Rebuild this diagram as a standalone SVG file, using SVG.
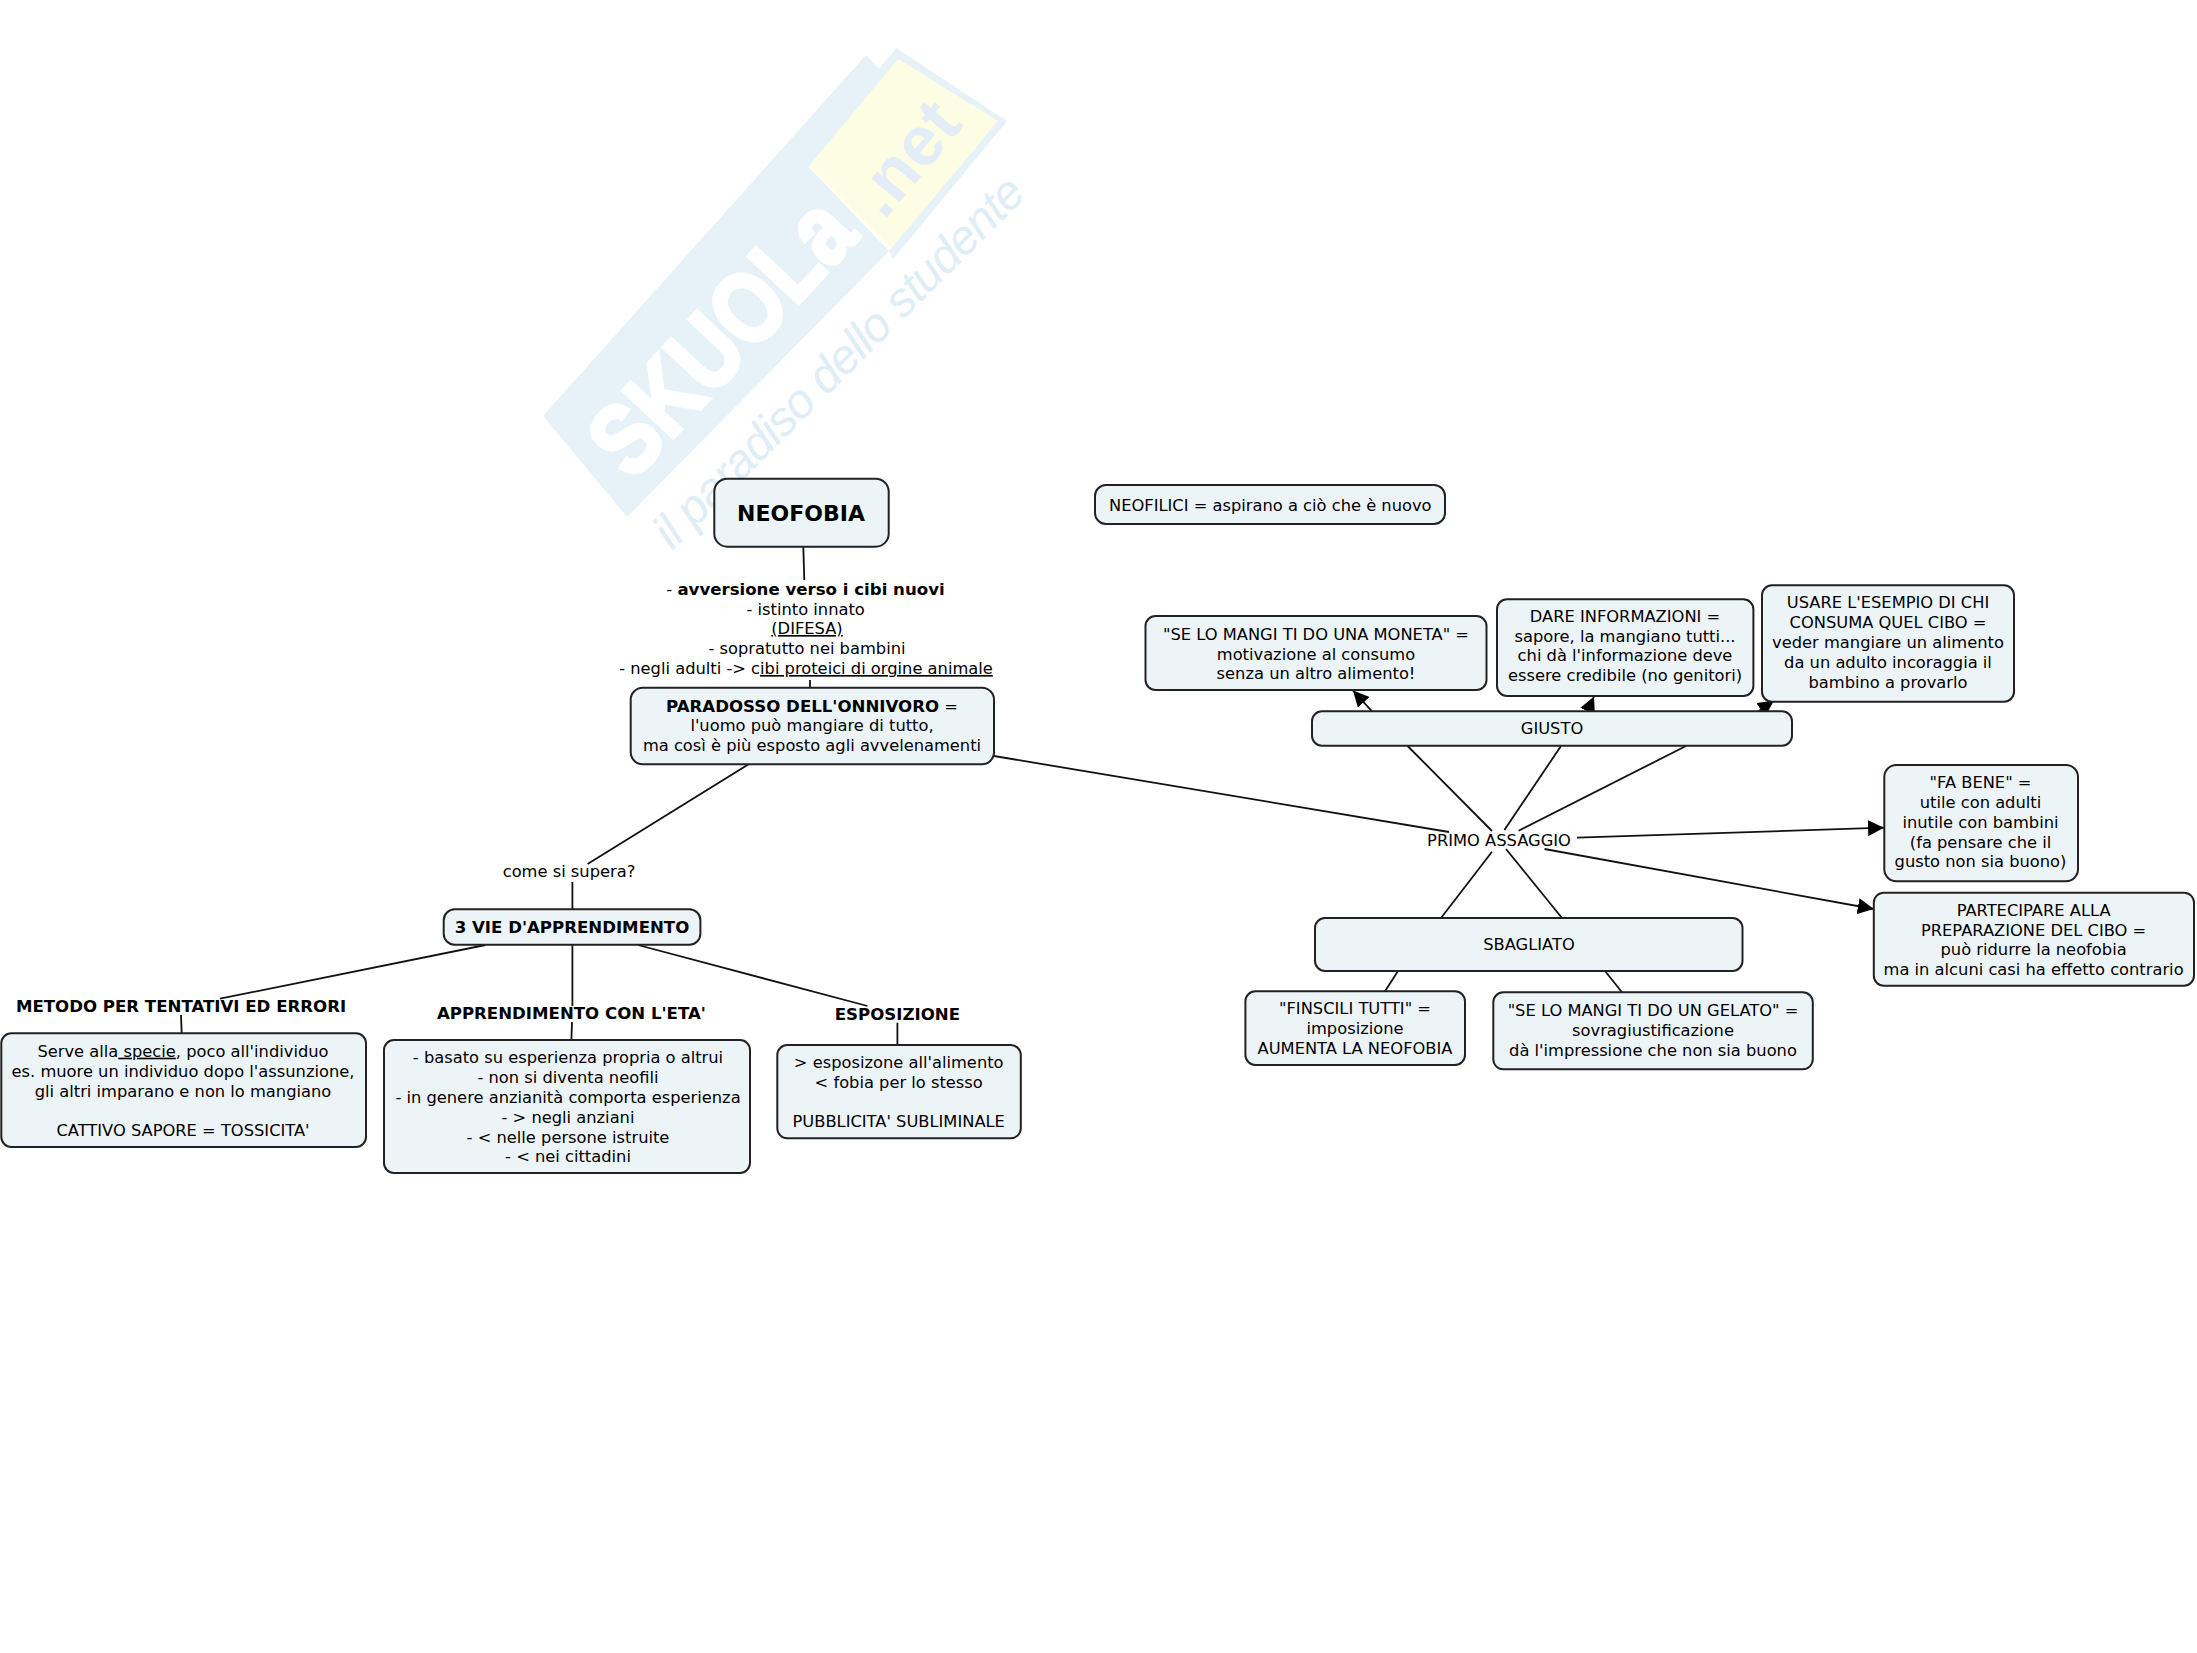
<svg xmlns="http://www.w3.org/2000/svg" width="2197" height="1653" viewBox="0 0 2197 1653">
<defs>
<marker id="arrow" markerUnits="userSpaceOnUse" markerWidth="18" markerHeight="16" refX="16" refY="8" orient="auto"><path d="M0 0L16 8L0 16Z" fill="#000"/></marker>
</defs>
<style>
.box{fill:#edf4f8;stroke:#222;stroke-width:2}
.t{font-family:"DejaVu Sans",Verdana,sans-serif;font-size:16.3px;fill:#000;text-anchor:middle}
.b{font-weight:bold;font-size:16.6px}
.u{text-decoration:underline}
.c{fill:none;stroke:#111;stroke-width:1.8}
.a{marker-end:url(#arrow)}
.wm{font-family:"Liberation Sans",Arial,sans-serif}
</style>
<rect width="2197" height="1653" fill="#fff"/>
<g id="watermark">
<polygon points="543,416 866,55 879,69 808,166 889,251 627,517" fill="#e6f2f8"/>
<polygon points="898,59 998,121 891,248 809,166" fill="#fdfde3"/>
<path d="M896 48L1007 121L893 259L889 251L998 121L898 59L809 166L804 163Z" fill="#e6f2f8"/>
<text class="wm" transform="translate(632 482) rotate(-47)" font-size="100" font-weight="bold" fill="#fff" stroke="#fff" stroke-width="4" textLength="335" lengthAdjust="spacingAndGlyphs">SKUOLa</text>
<text class="wm" transform="translate(884 221) rotate(-50)" font-size="70" font-weight="bold" fill="#e2edf7" textLength="125" lengthAdjust="spacingAndGlyphs">.net</text>
<text class="wm" transform="translate(672 551) rotate(-45)" font-size="48" font-style="italic" fill="#dfeef6" textLength="503" lengthAdjust="spacing">il paradiso dello studente</text>
</g>
<g id="connectors">
<path class="c" d="M803.3 546.7L804.3 580"/>
<path class="c" d="M810 680L810 687.7"/>
<path class="c" d="M994 756L1449 832"/>
<path class="c" d="M749 764L587.6 864"/>
<path class="c" d="M572.4 882V909.3"/>
<path class="c" d="M485.5 945L220 998.7"/>
<path class="c" d="M572.4 945V1006"/>
<path class="c" d="M572 1022L571.4 1040"/>
<path class="c" d="M638 945L867.5 1006"/>
<path class="c" d="M181 1015L181.7 1033.3"/>
<path class="c" d="M897.4 1022.7V1045"/>
<path class="c" d="M1407.6 746L1492 831"/>
<path class="c" d="M1561 746L1504.4 830"/>
<path class="c" d="M1686 746L1518.6 830.7"/>
<path class="c" d="M1492 851.7L1441 918"/>
<path class="c" d="M1506 849L1562 918"/>
<path class="c" d="M1398 971L1385 991.3"/>
<path class="c" d="M1605 971L1622 992.3"/>
<path class="c a" d="M1577 837.7L1884 827.7"/>
<path class="c a" d="M1544.5 849L1873.8 909"/>
<path class="c a" d="M1372 711.3L1353 690.5"/>
<path class="c a" d="M1587.5 711.3L1594 696.5"/>
<path class="c a" d="M1756 713L1774 700.5"/>
</g>
<g id="neofobia"><rect class="box" x="714.3" y="478.7" width="174.4" height="68" rx="13"/><text class="t b" x="801" y="521" style="font-size:22px">NEOFOBIA</text></g>
<g id="definizione"><text class="t"><tspan x="805.5" y="595">- <tspan class="b">avversione verso i cibi nuovi</tspan></tspan><tspan x="805.7" y="614.6">- istinto innato</tspan><tspan class="u" x="807" y="634">(DIFESA)</tspan><tspan x="807" y="654">- sopratutto nei bambini</tspan><tspan x="806" y="674">- negli adulti -&gt; c<tspan class="u">ibi proteici di orgine animale</tspan></tspan></text></g>
<g id="paradosso"><rect class="box" x="630.7" y="687.7" width="363.3" height="76.6" rx="12"/><text class="t"><tspan x="812" y="711.7"><tspan class="b">PARADOSSO DELL'ONNIVORO</tspan> =</tspan><tspan x="812" y="731">l'uomo può mangiare di tutto,</tspan><tspan x="812" y="751">ma così è più esposto agli avvelenamenti</tspan></text></g>
<g id="neofilici"><rect class="box" x="1095" y="485" width="350" height="39" rx="11"/><text class="t" x="1270.3" y="510.5">NEOFILICI = aspirano a ciò che è nuovo</text></g>
<g id="moneta"><rect class="box" x="1145.5" y="616" width="341" height="74" rx="10"/><text class="t"><tspan x="1316" y="639.5">"SE LO MANGI TI DO UNA MONETA" =</tspan><tspan x="1316" y="659.5">motivazione al consumo</tspan><tspan x="1316" y="679">senza un altro alimento!</tspan></text></g>
<g id="informazioni"><rect class="box" x="1497" y="599.3" width="256.4" height="96.7" rx="10"/><text class="t"><tspan x="1625" y="621.7">DARE INFORMAZIONI =</tspan><tspan x="1625" y="641.7">sapore, la mangiano tutti...</tspan><tspan x="1625" y="661">chi dà l'informazione deve</tspan><tspan x="1625" y="681">essere credibile (no genitori)</tspan></text></g>
<g id="esempio"><rect class="box" x="1762" y="585.3" width="252" height="116.4" rx="10"/><text class="t"><tspan x="1888" y="608">USARE L'ESEMPIO DI CHI</tspan><tspan x="1888" y="628">CONSUMA QUEL CIBO =</tspan><tspan x="1888" y="648">veder mangiare un alimento</tspan><tspan x="1888" y="667.7">da un adulto incoraggia il</tspan><tspan x="1888" y="687.7">bambino a provarlo</tspan></text></g>
<g id="giusto"><rect class="box" x="1312" y="711.3" width="480" height="34.4" rx="10"/><text class="t" x="1552" y="733.7">GIUSTO</text></g>
<g id="primo"><text class="t" x="1499" y="846">PRIMO ASSAGGIO</text></g>
<g id="fabene"><rect class="box" x="1884.3" y="765" width="193.7" height="116.3" rx="12"/><text class="t"><tspan x="1980.5" y="788.3">"FA BENE" =</tspan><tspan x="1980.5" y="808">utile con adulti</tspan><tspan x="1980.5" y="828">inutile con bambini</tspan><tspan x="1980.5" y="847.7">(fa pensare che il</tspan><tspan x="1980.5" y="867">gusto non sia buono)</tspan></text></g>
<g id="partecipare"><rect class="box" x="1873.8" y="892.7" width="320.2" height="93" rx="10"/><text class="t"><tspan x="2033.6" y="915.7">PARTECIPARE ALLA</tspan><tspan x="2033.6" y="935.7">PREPARAZIONE DEL CIBO =</tspan><tspan x="2033.6" y="955.3">può ridurre la neofobia</tspan><tspan x="2033.6" y="975">ma in alcuni casi ha effetto contrario</tspan></text></g>
<g id="sbagliato"><rect class="box" x="1315" y="918" width="427.5" height="53" rx="10"/><text class="t" x="1529" y="950">SBAGLIATO</text></g>
<g id="finscili"><rect class="box" x="1245.4" y="991.3" width="219.6" height="73.7" rx="10"/><text class="t"><tspan x="1355" y="1014.3">"FINSCILI TUTTI" =</tspan><tspan x="1355" y="1034.3">imposizione</tspan><tspan x="1355" y="1054">AUMENTA LA NEOFOBIA</tspan></text></g>
<g id="gelato"><rect class="box" x="1493.3" y="992.3" width="319.5" height="77" rx="10"/><text class="t"><tspan x="1653" y="1016">"SE LO MANGI TI DO UN GELATO" =</tspan><tspan x="1653" y="1036">sovragiustificazione</tspan><tspan x="1653" y="1055.7">dà l'impressione che non sia buono</tspan></text></g>
<g id="supera"><text class="t" x="569" y="876.7">come si supera?</text></g>
<g id="vie"><rect class="box" x="443.7" y="909.3" width="256.7" height="35.4" rx="11"/><text class="t b" x="572" y="932.7">3 VIE D'APPRENDIMENTO</text></g>
<g id="metodo"><text class="t b" x="181" y="1012">METODO PER TENTATIVI ED ERRORI</text><rect class="box" x="1.3" y="1033.3" width="364.7" height="113.7" rx="10"/><text class="t"><tspan x="183" y="1056.7">Serve alla<tspan class="u"> specie</tspan>, poco all'individuo</tspan><tspan x="183" y="1076.7">es. muore un individuo dopo l'assunzione,</tspan><tspan x="183" y="1096.7">gli altri imparano e non lo mangiano</tspan><tspan x="183" y="1136">CATTIVO SAPORE = TOSSICITA'</tspan></text></g>
<g id="eta"><text class="t b" x="571.4" y="1018.7">APPRENDIMENTO CON L'ETA'</text><rect class="box" x="384" y="1040" width="366" height="133" rx="10"/><text class="t"><tspan x="568" y="1063.3">- basato su esperienza propria o altrui</tspan><tspan x="568" y="1083.3">- non si diventa neofili</tspan><tspan x="568" y="1103.3">- in genere anzianità comporta esperienza</tspan><tspan x="568" y="1123.3">- &gt; negli anziani</tspan><tspan x="568" y="1143">- &lt; nelle persone istruite</tspan><tspan x="568" y="1162">- &lt; nei cittadini</tspan></text></g>
<g id="esposizione"><text class="t b" x="897.4" y="1020">ESPOSIZIONE</text><rect class="box" x="777.3" y="1045" width="243.5" height="93.3" rx="10"/><text class="t"><tspan x="898.7" y="1067.7">&gt; esposizone all'alimento</tspan><tspan x="898.7" y="1087.7">&lt; fobia per lo stesso</tspan><tspan x="898.7" y="1126.7">PUBBLICITA' SUBLIMINALE</tspan></text></g>
</svg>
